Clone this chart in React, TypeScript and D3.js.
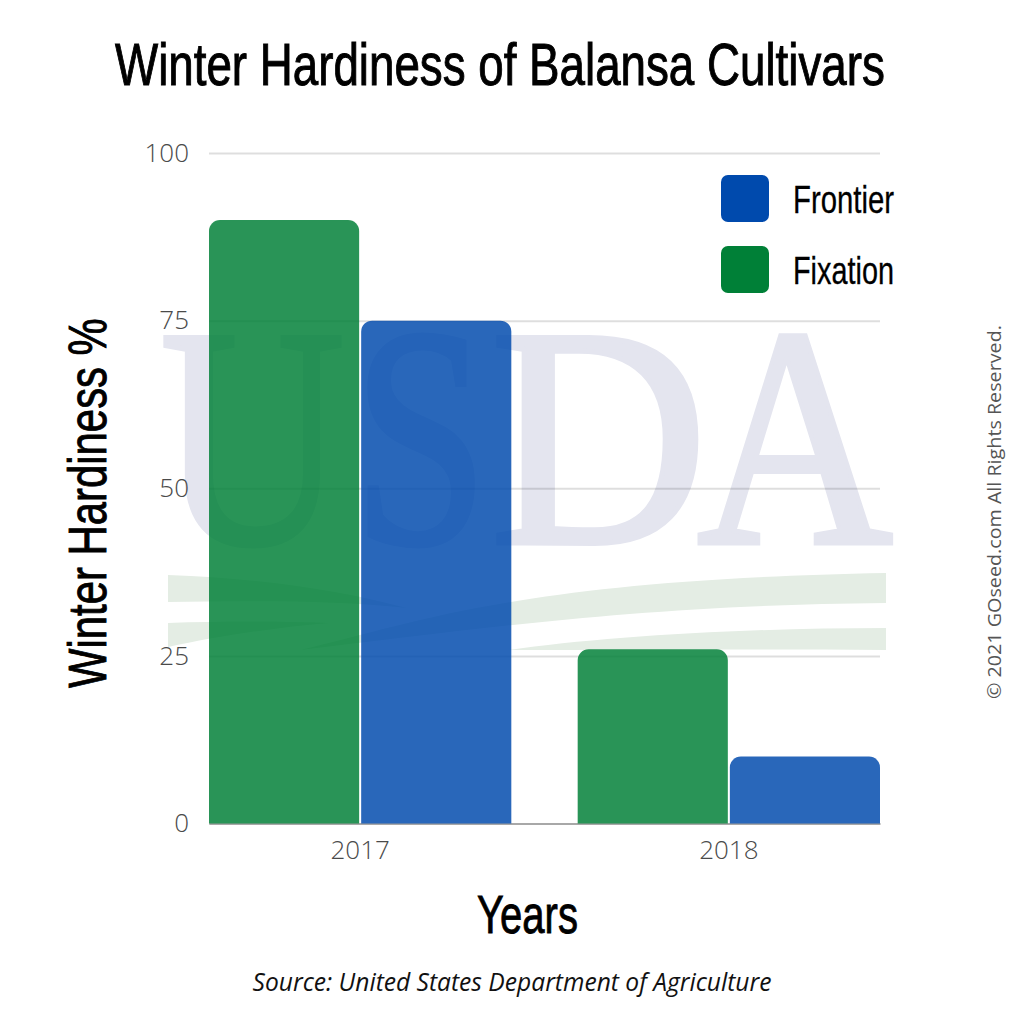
import React, { useRef, useEffect } from 'react';
import * as d3 from 'd3';

const YEARS = ['2017', '2018'];
const SERIES = ['Fixation', 'Frontier'];
const FIXATION = [90, 26];
const FRONTIER = [75, 10];
const Y_TICKS = [0, 25, 50, 75, 100];
const LEGEND = ['Frontier', 'Fixation'];
const WATERMARK = [
  { letter: 'U', from: 160, to: 345 },
  { letter: 'S', from: 353, to: 488 },
  { letter: 'D', from: 490, to: 708 },
  { letter: 'A', from: 697, to: 893 },
];

const size = 1024;
const left = 209;
const right = 880;
const top = 153;
const bottom = 823.5;

const COLORS: Record<string, string> = { Frontier: '#004aad', Fixation: '#008037' };
const NARROW = '"Liberation Sans Narrow", "Liberation Sans", sans-serif';
const SANS = '"Open Sans", sans-serif';

const x0 = d3.scaleBand().domain(YEARS).range([left, right]).paddingInner(0.18);
const x1 = d3.scaleBand().domain(SERIES).range([0, x0.bandwidth()]).paddingInner(0.0133);
const y = d3.scaleLinear().domain([0, 100]).range([bottom, top]);
const legendY = d3.scaleBand().domain(LEGEND).range([175, 293]).paddingInner(0.338);

function barPath(bx: number, w: number, value: number) {
  const r = Math.min(11, bottom - y(value));
  const t = y(value);
  const p = d3.path();
  p.moveTo(bx, bottom);
  p.lineTo(bx, t + r);
  p.arcTo(bx, t, bx + r, t, r);
  p.lineTo(bx + w - r, t);
  p.arcTo(bx + w, t, bx + w, t + r, r);
  p.lineTo(bx + w, bottom);
  p.closePath();
  return p.toString();
}

function drawAxes(group: SVGGElement) {
  const g = d3.select(group);
  g.selectAll('*').remove();

  const yAxis = g.append('g')
    .attr('transform', `translate(${left},0)`)
    .call(d3.axisLeft(y).tickValues(Y_TICKS).tickSizeInner(-(right - left)).tickSizeOuter(0).tickPadding(20));
  yAxis.select('.domain').remove();
  yAxis.selectAll('line').attr('stroke', 'rgba(0,0,0,0.13)').attr('stroke-width', 2);
  yAxis.selectAll('text')
    .attr('font-family', SANS).attr('font-weight', 300).attr('font-size', 26).attr('fill', '#4a4a4a');

  const xAxis = g.append('g')
    .attr('transform', `translate(0,${bottom})`)
    .call(d3.axisBottom(x0).tickSize(0).tickPadding(17));
  xAxis.select('.domain').attr('stroke', '#a8a8a8').attr('stroke-width', 2);
  xAxis.selectAll('text')
    .attr('font-family', SANS).attr('font-weight', 300).attr('font-size', 26).attr('fill', '#4a4a4a');
}

// squeeze the condensed labels to the width they have in the design
function fitTexts(root: SVGSVGElement) {
  d3.select(root).selectAll<SVGTextElement, unknown>('text[data-fit]').each(function () {
    const w = this.getComputedTextLength();
    const want = +(this.getAttribute('data-fit') as string);
    const place = this.getAttribute('data-place');
    this.setAttribute('transform', `${place} scale(${want / w},1)`);
  });
}

const App = () => {
  const rootRef = useRef<SVGSVGElement>(null);
  const axesRef = useRef<SVGGElement>(null);
  useEffect(() => {
    if (axesRef.current) drawAxes(axesRef.current);
    if (rootRef.current) fitTexts(rootRef.current);
  }, []);

  const values: Record<string, number[]> = { Fixation: FIXATION, Frontier: FRONTIER };

  return (
    <svg
      ref={rootRef}
      width={size}
      height={size}
      viewBox={`0 0 ${size} ${size}`}
      style={{ position: 'absolute', left: 0, top: 0, background: '#fff' }}
    >
      {/* watermark */}
      <g>
        {WATERMARK.map(d => (
          <text key={d.letter} data-fit={d.to - d.from} data-place={`translate(${d.from},543)`}
            fontFamily='"Liberation Serif", serif' fontSize={314} fill="#e4e5ef" stroke="#e4e5ef" strokeWidth={5}>
            {d.letter}
          </text>
        ))}
        <g fill="#e4ede4">
          <path d="M168,575 C260,578 340,590 407,608 C330,600 250,601 168,602 Z" />
          <path d="M168,623 C220,621 280,621 330,623 C270,628 215,637 168,647 Z" />
          <path d="M300,650 C420,622 520,580 886,573 L886,603 C640,605 470,630 300,650 Z" />
          <path d="M509,650 C600,637 740,628 886,628 L886,650 C760,649 640,650 509,650 Z" />
        </g>
      </g>

      <g ref={axesRef}></g>

      {SERIES.map(s => (
        <g key={s} fill={COLORS[s]} fillOpacity={0.84}>
          {YEARS.map((yr, i) => (
            <path key={yr} d={barPath((x0(yr) as number) + (x1(s) as number), x1.bandwidth(), values[s][i])} />
          ))}
        </g>
      ))}

      {LEGEND.map(s => (
        <g key={s}>
          <rect x={721} y={legendY(s)} width={48} height={legendY.bandwidth()} rx={7} fill={COLORS[s]} />
          <text data-fit={101} data-place={`translate(793,${(legendY(s) as number) + 38})`}
            fontFamily={NARROW} fontSize={38} fill="#000" stroke="#000" strokeWidth={0.3}>{s}</text>
        </g>
      ))}

      <text data-fit={770} data-place="translate(115,85)" fontFamily={NARROW} fontSize={60} fill="#000"
        stroke="#000" strokeWidth={1}>Winter Hardiness of Balansa Cultivars</text>
      <text data-fit={370} data-place="translate(106,688) rotate(-90)" fontFamily={NARROW} fontSize={54} fill="#000"
        stroke="#000" strokeWidth={0.9}>Winter Hardiness %</text>
      <text data-fit={101} data-place="translate(477,933)" fontFamily={NARROW} fontSize={54} fill="#000"
        stroke="#000" strokeWidth={0.9}>Years</text>
      <text x={512} y={991} textAnchor="middle" fontFamily={SANS} fontStyle="italic" fontSize={24.6} fill="#111">
        Source: United States Department of Agriculture
      </text>
      <text data-fit={374} data-place="translate(1001,699) rotate(-90)" fontFamily={SANS} fontSize={19} fill="#555">
        © 2021 GOseed.com All Rights Reserved.
      </text>
    </svg>
  );
};

export default App;
